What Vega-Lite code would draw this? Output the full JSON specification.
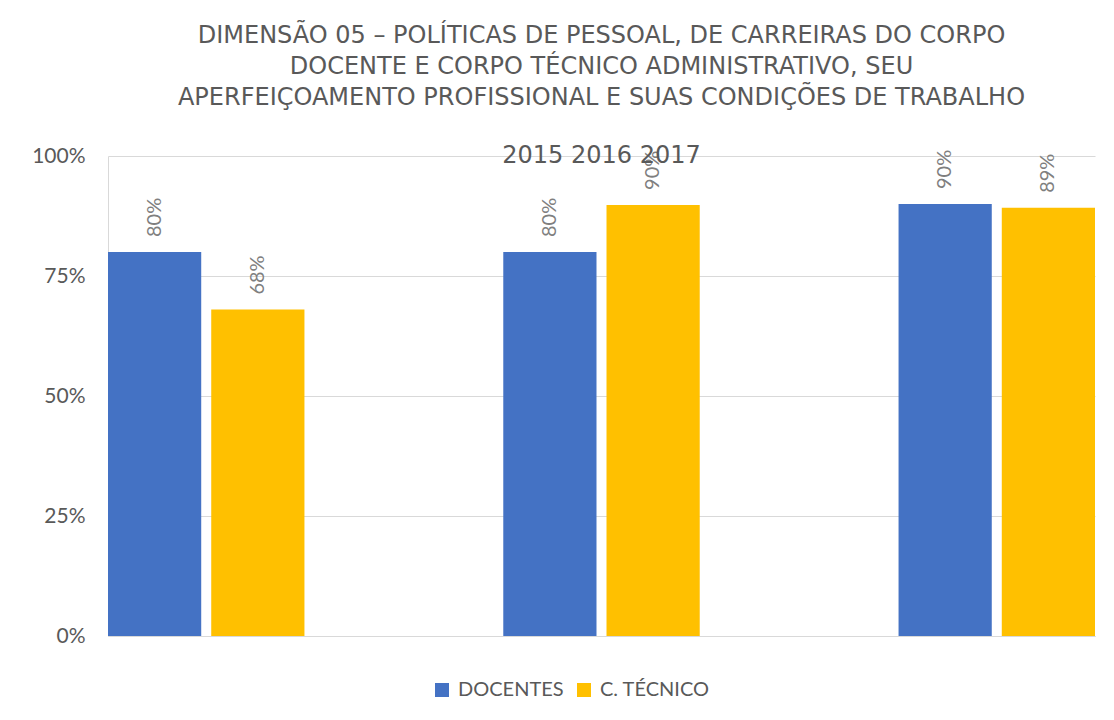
{
  "$schema": "https://vega.github.io/schema/vega-lite/v6.json",
  "autosize": {"type": "none"},
  "width": 987,
  "height": 480,
  "padding": {"left": 108, "top": 156, "right": 19, "bottom": 84},
  "background": "white",
  "title": {
    "text": ["DIMENSÃO 05 – POLÍTICAS DE PESSOAL, DE CARREIRAS DO CORPO", "DOCENTE E CORPO TÉCNICO ADMINISTRATIVO, SEU", "APERFEIÇOAMENTO PROFISSIONAL E SUAS CONDIÇÕES DE TRABALHO"],
    "subtitle": "2015 2016 2017",
    "anchor": "middle",
    "frame": "group",
    "font": "DejaVu Sans",
    "fontSize": 24,
    "fontWeight": "normal",
    "color": "#595959",
    "lineHeight": 31,
    "subtitleFont": "DejaVu Sans",
    "subtitleFontSize": 24,
    "subtitleColor": "#595959",
    "subtitlePadding": 34,
    "offset": -23
  },
  "data": {
    "values": [
      {"ano": "2015", "serie": "DOCENTES", "valor": 0.80},
      {"ano": "2015", "serie": "C. TÉCNICO", "valor": 0.68},
      {"ano": "2016", "serie": "DOCENTES", "valor": 0.80},
      {"ano": "2016", "serie": "C. TÉCNICO", "valor": 0.898},
      {"ano": "2017", "serie": "DOCENTES", "valor": 0.90},
      {"ano": "2017", "serie": "C. TÉCNICO", "valor": 0.892}
    ]
  },
  "encoding": {
    "x": {
      "field": "ano", "type": "nominal",
      "scale": {"paddingInner": 0.503, "paddingOuter": 0},
      "axis": {"labels": false, "ticks": false, "title": null, "grid": false, "domainColor": "#d9d9d9", "domainWidth": 1}
    },
    "xOffset": {
      "field": "serie", "type": "nominal", "sort": ["DOCENTES", "C. TÉCNICO"],
      "scale": {"paddingInner": 0.097, "paddingOuter": 0}
    },
    "y": {
      "field": "valor", "type": "quantitative",
      "scale": {"domain": [0, 1], "nice": false},
      "axis": {
        "title": null, "format": ".0%", "values": [0, 0.25, 0.5, 0.75, 1],
        "grid": true, "gridColor": "#d9d9d9", "gridWidth": 1,
        "domain": true, "domainColor": "#d9d9d9", "ticks": false,
        "labelPadding": 23, "labelFont": "Lato", "labelFontSize": 21, "labelColor": "#595959"
      }
    }
  },
  "layer": [
    {
      "mark": {"type": "bar"},
      "encoding": {
        "color": {
          "field": "serie", "type": "nominal",
          "scale": {"domain": ["DOCENTES", "C. TÉCNICO"], "range": ["#4472C4", "#FFC000"]},
          "legend": {
            "title": null, "orient": "none", "direction": "horizontal",
            "legendX": 324, "legendY": 524,
            "symbolType": "square", "symbolSize": 196, "symbolStrokeWidth": 0,
            "labelFont": "Lato", "labelFontSize": 20, "labelColor": "#595959",
            "labelOffset": 6, "columnSpacing": 44
          }
        }
      }
    },
    {
      "mark": {"type": "text", "angle": 270, "align": "left", "baseline": "middle", "dx": 15, "font": "Lato", "fontSize": 20, "color": "#7f7f7f"},
      "encoding": {
        "text": {"field": "valor", "type": "quantitative", "format": ".0%"}
      }
    }
  ],
  "config": {"view": {"stroke": null}}
}
